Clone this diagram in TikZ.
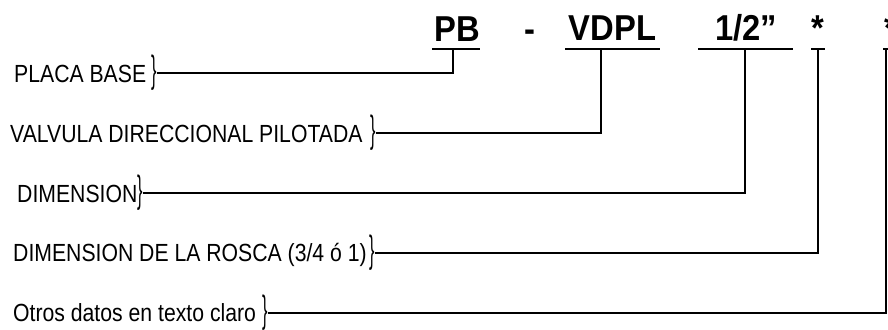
\documentclass[tikz,border=0pt]{standalone}
\usepackage{fontspec}
\setmainfont{Liberation Sans}[FakeStretch=0.855]
\newfontfamily\codefont{Liberation Sans}[FakeStretch=0.91]
\begin{document}
\begin{tikzpicture}[x=1pt,y=-1pt,
  lbl/.style={anchor=base west,inner sep=0pt,font=\fontsize{24.8}{25}\selectfont},
  brc/.style={anchor=west,inner sep=0pt,font=\fontsize{23.7}{24}\selectfont},
  code/.style={anchor=base,inner sep=0pt,font=\codefont\bfseries\fontsize{36}{37}\selectfont},
  conn/.style={line width=1.3pt},
  uline/.style={line width=1.5pt}]
\useasboundingbox (0,0) rectangle (888,329);
\clip (0,0) rectangle (888,329);
% code
\node[code] (pb) at (457.5,41.5) {PB};
\node[code] (dash) at (530,41.5) {-};
\node[code] (vdpl) at (612.5,41) {VDPL};
\node[code] (dim) at (746,41) {1/2”};
\node[code] (st1) at (818,41) {*};
\node[code] (st2) at (891,41) {*};
% underline end points
\coordinate (u1a) at (432,49); \coordinate (u1b) at (480,49);
\coordinate (u2a) at (565,49); \coordinate (u2b) at (660,49);
\coordinate (u3a) at (698,49); \coordinate (u3b) at (793,49);
\coordinate (u4a) at (811,49); \coordinate (u4b) at (825,49);
\coordinate (u5a) at (883,49); \coordinate (u5b) at (897,49);
\draw[uline] (u1a) -- (u1b);
\draw[uline] (u2a) -- (u2b);
\draw[uline] (u3a) -- (u3b);
\draw[uline] (u4a) -- (u4b);
\draw[uline] (u5a) -- (u5b);
% junctions
\coordinate (j1) at (453,49);
\coordinate (j2) at (601,49);
\coordinate (j3) at (745,49);
\coordinate (j4) at (818,49);
\coordinate (j5) at (886,49);
% labels
\node[lbl] (l1) at (14,82) {PLACA BASE};
\node[lbl] (l2) at (10,142) {VALVULA DIRECCIONAL PILOTADA};
\node[lbl] (l3) at (17,202) {DIMENSION};
\node[lbl] (l4) at (13,261) {DIMENSION DE LA ROSCA (3/4 ó 1)};
\node[lbl] (l5) at (13,321) {Otros datos en texto claro};
% braces
\node[brc] (b1) at (151,73) {\scalebox{0.8}[1.6]{\}}};
\node[brc] (b2) at (370,133) {\scalebox{0.8}[1.6]{\}}};
\node[brc] (b3) at (137,193) {\scalebox{0.8}[1.6]{\}}};
\node[brc] (b4) at (369,253) {\scalebox{0.8}[1.6]{\}}};
\node[brc] (b5) at (262,313) {\scalebox{0.8}[1.6]{\}}};
% connectors
\draw[conn] (b1.east) -| (j1);
\draw[conn] (b2.east) -| (j2);
\draw[conn] (b3.east) -| (j3);
\draw[conn] (b4.east) -| (j4);
\draw[conn] (b5.east) -| (j5);
\end{tikzpicture}
\end{document}
